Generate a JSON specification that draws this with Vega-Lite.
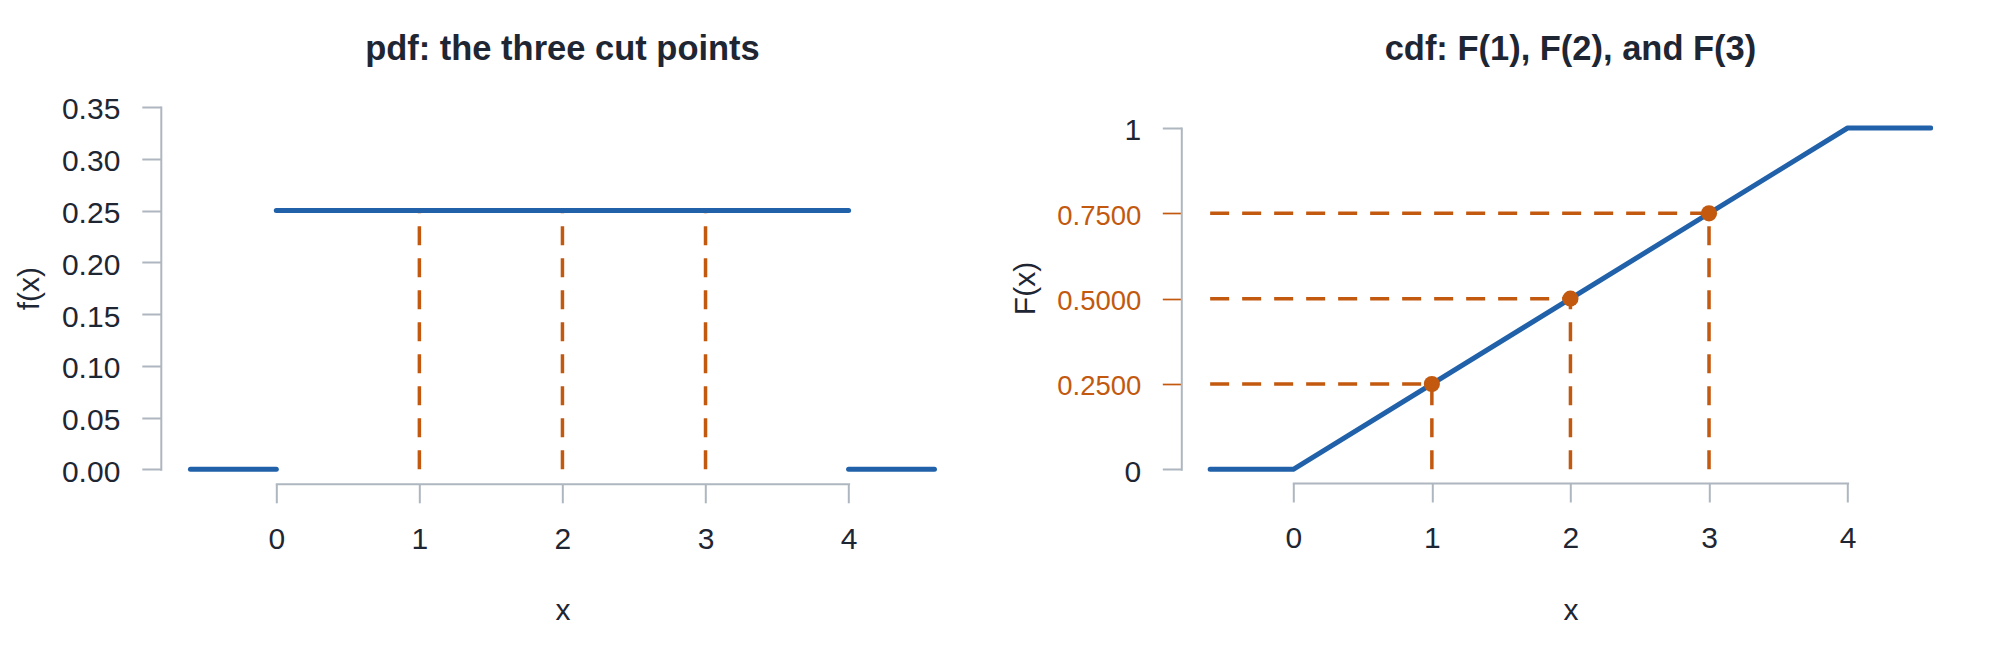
{
  "$schema": "https://vega.github.io/schema/vega-lite/v6.json",
  "background": "white",
  "padding": {"left": 14.3, "top": 32, "right": 0, "bottom": 0},
  "spacing": 72,
  "datasets": {
    "pdf": [
      {"x": -0.6, "x2": 0, "y": 0},
      {"x": 0, "x2": 4, "y": 0.25},
      {"x": 4, "x2": 4.6, "y": 0}
    ],
    "pdfcuts": [
      {"x": 1, "base": 0, "f": 0.25},
      {"x": 2, "base": 0, "f": 0.25},
      {"x": 3, "base": 0, "f": 0.25}
    ],
    "cdf": [
      {"x": -0.6, "F": 0},
      {"x": 0, "F": 0},
      {"x": 4, "F": 1},
      {"x": 4.6, "F": 1}
    ],
    "cdfcuts": [
      {"x": 1, "F": 0.25, "start": -0.6, "base": 0},
      {"x": 2, "F": 0.5, "start": -0.6, "base": 0},
      {"x": 3, "F": 0.75, "start": -0.6, "base": 0}
    ]
  },
  "config": {
    "view": {"stroke": null},
    "font": "Liberation Sans",
    "axis": {
      "domain": true,
      "domainColor": "#aeb6bf",
      "domainWidth": 2,
      "domainCap": "square",
      "grid": false,
      "tickColor": "#aeb6bf",
      "tickWidth": 2,
      "tickSize": 19,
      "labelFont": "Liberation Sans",
      "labelFontSize": 30,
      "labelColor": "#1f2633",
      "labelFlush": false,
      "labelOverlap": false,
      "titleFont": "Liberation Sans",
      "titleFontSize": 30,
      "titleFontWeight": "normal",
      "titleColor": "#1f2633"
    },
    "axisX": {"labelPadding": 22, "titlePadding": 40.5},
    "axisY": {"labelPadding": 22, "labelOffset": 3},
    "title": {
      "font": "Liberation Sans",
      "fontSize": 34.5,
      "fontWeight": "bold",
      "color": "#1f2633",
      "anchor": "middle",
      "baseline": "alphabetic",
      "frame": "group"
    }
  },
  "hconcat": [
    {
      "width": 572.3,
      "height": 362.3,
      "title": {"text": "pdf: the three cut points", "offset": 27.2},
      "layer": [
        {
          "data": {"name": "pdfcuts"},
          "mark": {"type": "rule", "color": "#c2590f", "strokeWidth": 3.5, "strokeDash": [19, 13], "strokeCap": "butt"},
          "encoding": {
            "x": {"field": "x", "type": "quantitative", "title": "x",
                  "scale": {"domain": [0, 4], "nice": false, "zero": false},
                  "axis": {"values": [0, 1, 2, 3, 4], "format": "d", "offset": 14.5}},
            "y": {"field": "base", "type": "quantitative", "title": "f(x)",
                  "scale": {"domain": [0, 0.35], "nice": false, "zero": false},
                  "axis": {"values": [0, 0.05, 0.1, 0.15, 0.2, 0.25, 0.3, 0.35], "format": ".2f", "offset": 115.5, "titlePadding": 16.5}},
            "y2": {"field": "f"}
          }
        },
        {
          "data": {"name": "pdf"},
          "mark": {"type": "rule", "color": "#2061a9", "strokeWidth": 5, "strokeCap": "round"},
          "encoding": {
            "x": {"field": "x", "type": "quantitative", "title": "x"},
            "x2": {"field": "x2"},
            "y": {"field": "y", "type": "quantitative", "title": "f(x)"}
          }
        }
      ]
    },
    {
      "width": 554.3,
      "height": 362.3,
      "title": {"text": "cdf: F(1), F(2), and F(3)", "offset": 39.2},
      "layer": [
        {
          "data": {"name": "cdfcuts"},
          "mark": {"type": "rule", "color": "#c2590f", "strokeWidth": 3.5, "strokeDash": [19, 13], "strokeCap": "butt"},
          "encoding": {
            "x": {"field": "start", "type": "quantitative", "title": "x",
                  "scale": {"domain": [0, 4], "nice": false, "zero": false},
                  "axis": {"values": [0, 1, 2, 3, 4], "format": "d", "offset": 13.7, "titlePadding": 41.3}},
            "x2": {"field": "x"},
            "y": {"field": "F", "type": "quantitative", "title": "F(x)",
                  "scale": {"domain": [0, 1], "range": [362.3, 21], "nice": false, "zero": false},
                  "axis": {
                    "values": [0, 0.25, 0.5, 0.75, 1],
                    "offset": 112,
                    "labelPadding": 21.5,
                    "titlePadding": 16.4,
                    "titleY": 181,
                    "labelExpr": "datum.value == 0 ? '0' : datum.value == 1 ? '1' : format(datum.value, '.4f')",
                    "labelColor": {"condition": {"test": "datum.value == 0 || datum.value == 1", "value": "#1f2633"}, "value": "#c2590f"},
                    "labelFontSize": {"condition": {"test": "datum.value == 0 || datum.value == 1", "value": 30}, "value": 27.5},
                    "tickColor": {"condition": {"test": "datum.value == 0 || datum.value == 1", "value": "#aeb6bf"}, "value": "#c2590f"},
                    "tickWidth": {"condition": {"test": "datum.value == 0 || datum.value == 1", "value": 2}, "value": 1.7}
                  }}
          }
        },
        {
          "data": {"name": "cdfcuts"},
          "mark": {"type": "rule", "color": "#c2590f", "strokeWidth": 3.5, "strokeDash": [19, 13], "strokeCap": "butt"},
          "encoding": {
            "x": {"field": "x", "type": "quantitative", "title": "x"},
            "y": {"field": "base", "type": "quantitative", "title": "F(x)"},
            "y2": {"field": "F"}
          }
        },
        {
          "data": {"name": "cdf"},
          "mark": {"type": "line", "color": "#2061a9", "strokeWidth": 5, "strokeCap": "round", "strokeJoin": "round"},
          "encoding": {
            "x": {"field": "x", "type": "quantitative", "title": "x"},
            "y": {"field": "F", "type": "quantitative", "title": "F(x)"}
          }
        },
        {
          "data": {"name": "cdfcuts"},
          "mark": {"type": "point", "filled": true, "opacity": 1, "color": "#c2590f", "size": 260},
          "encoding": {
            "x": {"field": "x", "type": "quantitative", "title": "x"},
            "y": {"field": "F", "type": "quantitative", "title": "F(x)"}
          }
        }
      ]
    }
  ]
}
